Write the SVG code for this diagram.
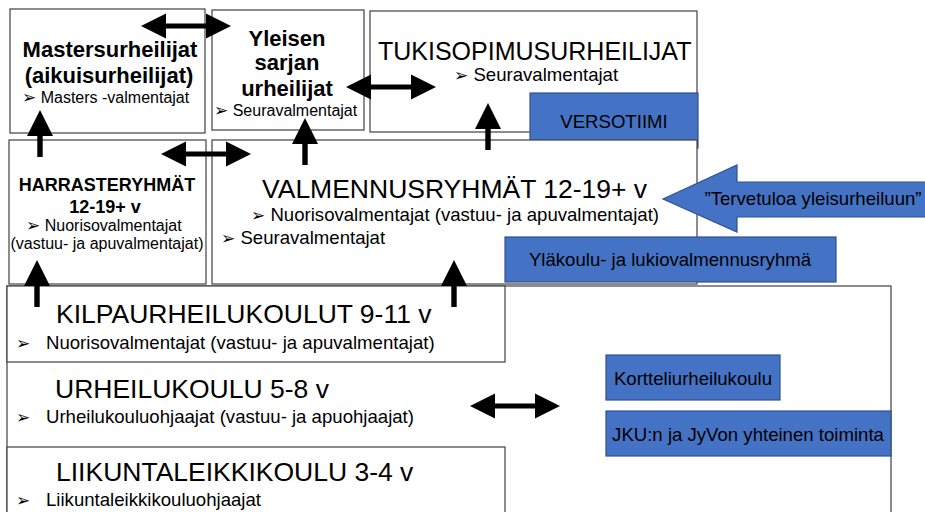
<svg xmlns="http://www.w3.org/2000/svg" xmlns:xlink="http://www.w3.org/1999/xlink" width="925" height="512" viewBox="0 0 925 512">
<style>
.box{fill:#fff;stroke:#404040;stroke-width:1.2}
.blue{fill:#4472C4;stroke:#2F528F;stroke-width:1.2}
text{font-family:"Liberation Sans",Arial,"DejaVu Sans",sans-serif;fill:#000}
.b{font-weight:bold}
.t26{font-size:26.5px}
.t25{font-size:25px}
.s18{font-size:18.6px}
.s16{font-size:16px}
.m{text-anchor:middle}
.bul{font-family:"DejaVu Sans",sans-serif;font-size:17px}
</style>
<defs>
<path id="dbl" d="M-45,0 L-20,-12.5 L-20,-2.5 L20,-2.5 L20,-12.5 L45,0 L20,12.5 L20,2.5 L-20,2.5 L-20,12.5 Z" fill="#000"/>
<path id="up" d="M0,0 L13,26 L2.7,26 L2.7,47 L-2.7,47 L-2.7,26 L-13,26 Z" fill="#000"/>
</defs>

<rect class="box" x="7" y="286" width="884" height="240"/>

<g id="masters">
<rect class="box" x="10" y="9" width="195" height="124"/>
<text class="b m" x="110" y="57" font-size="22">Mastersurheilijat</text>
<text class="b m" x="109" y="83" font-size="22">(aikuisurheilijat)</text>
<text class="s16" x="22" y="103"><tspan class="bul">➢</tspan> Masters -valmentajat</text>
</g>

<g id="yleisen">
<rect class="box" x="212" y="10" width="152" height="120"/>
<text class="b m" x="287" y="46" font-size="22">Yleisen</text>
<text class="b m" x="287" y="70" font-size="22">sarjan</text>
<text class="b m" x="287" y="96" font-size="22">urheilijat</text>
<text class="s16" x="214" y="116"><tspan class="bul">➢</tspan> Seuravalmentajat</text>
</g>

<g id="tuki">
<rect class="box" x="370" y="11" width="327" height="121"/>
<text class="t25" x="378" y="60">TUKISOPIMUSURHEILIJAT</text>
<text class="s18" x="454" y="81"><tspan class="bul">➢</tspan> Seuravalmentajat</text>
</g>

<g id="versotiimi">
<rect class="blue" x="530" y="93" width="168" height="55"/>
<text class="s18 m" x="614" y="128">VERSOTIIMI</text>
</g>

<g id="harras">
<rect class="box" x="9" y="140" width="197" height="144"/>
<text class="b m" x="107" y="191" font-size="18">HARRASTERYHMÄT</text>
<text class="b m" x="105" y="213" font-size="18">12-19+ v</text>
<text class="s16" x="26" y="231"><tspan class="bul">➢</tspan> Nuorisovalmentajat</text>
<text class="s16 m" x="107" y="249">(vastuu- ja apuvalmentajat)</text>
</g>

<g id="valmennus">
<rect class="box" x="212" y="140" width="485" height="144"/>
<text class="t26" x="262" y="198">VALMENNUSRYHMÄT 12-19+ v</text>
<text class="s18" x="251" y="221"><tspan class="bul">➢</tspan> Nuorisovalmentajat (vastuu- ja apuvalmentajat)</text>
<text class="s18" x="221" y="244"><tspan class="bul">➢</tspan> Seuravalmentajat</text>
</g>

<g id="tervetuloa">
<polygon class="blue" points="663,199 737,165 737,182 930,182 930,217 737,217 737,232"/>
<text class="s18 m" x="813" y="205">”Tervetuloa yleisurheiluun”</text>
</g>

<g id="ylakoulu">
<rect class="blue" x="505" y="237" width="331" height="45"/>
<text class="s18 m" x="670" y="266">Yläkoulu- ja lukiovalmennusryhmä</text>
</g>

<g id="kilpa">
<rect class="box" x="7" y="286" width="498" height="76"/>
<text class="t26" x="56" y="323">KILPAURHEILUKOULUT 9-11 v</text>
<text class="bul" x="16" y="349">➢</text>
<text class="s18" x="46" y="349">Nuorisovalmentajat (vastuu- ja apuvalmentajat)</text>
</g>

<g id="urheilukoulu">
<text class="t26" x="55" y="398">URHEILUKOULU 5-8 v</text>
<text class="bul" x="16" y="423">➢</text>
<text class="s18" x="46" y="423">Urheilukouluohjaajat (vastuu- ja apuohjaajat)</text>
</g>

<g id="liikunta">
<rect class="box" x="7" y="447" width="498" height="80"/>
<text class="t26" x="56" y="481">LIIKUNTALEIKKIKOULU 3-4 v</text>
<text class="bul" x="16" y="506">➢</text>
<text class="s18" x="46" y="506">Liikuntaleikkikouluohjaajat</text>
</g>

<g id="kortteli">
<rect class="blue" x="606" y="355" width="174" height="45"/>
<text class="s18 m" x="693" y="385">Kortteliurheilukoulu</text>
</g>

<g id="jku">
<rect class="blue" x="606" y="411" width="285" height="45"/>
<text class="s18 m" x="748" y="441">JKU:n ja JyVon yhteinen toiminta</text>
</g>

<g id="connectors">
<use xlink:href="#dbl" x="186" y="26"/>
<use xlink:href="#dbl" x="391" y="87"/>
<use xlink:href="#dbl" x="206" y="154"/>
<use xlink:href="#dbl" x="515" y="406"/>
<use xlink:href="#up" x="40" y="110"/>
<use xlink:href="#up" x="305" y="118"/>
<use xlink:href="#up" x="488" y="103"/>
<use xlink:href="#up" x="37" y="260"/>
<use xlink:href="#up" x="454" y="260"/>
</g>
</svg>
